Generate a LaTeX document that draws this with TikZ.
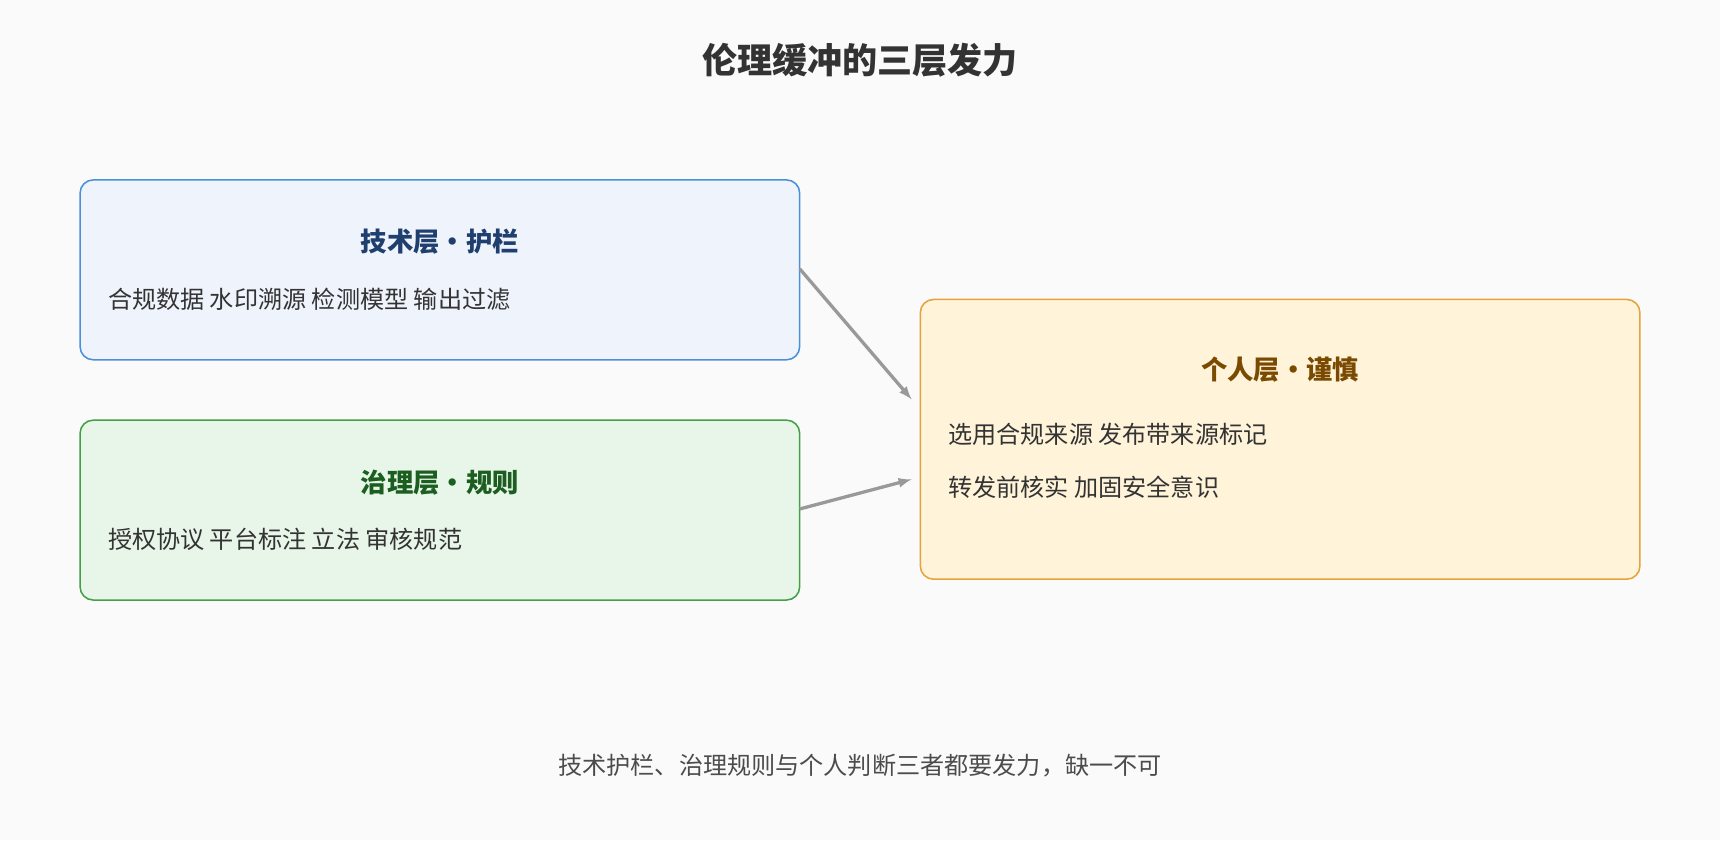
\documentclass[tikz,border=0pt]{standalone}
\usepackage{fontspec}
\setmainfont{Noto Sans CJK SC}
\newfontfamily\cjk{Noto Sans CJK SC}
\usetikzlibrary{backgrounds}
\definecolor{bgc}{HTML}{FAFAFA}
\definecolor{techfill}{HTML}{EEF3FC}
\definecolor{techline}{HTML}{4A90D9}
\definecolor{techtext}{HTML}{1F3F6E}
\definecolor{govfill}{HTML}{E8F5E9}
\definecolor{govline}{HTML}{43A047}
\definecolor{govtext}{HTML}{1B5E20}
\definecolor{perfill}{HTML}{FFF3D9}
\definecolor{perline}{HTML}{E6A23C}
\definecolor{pertext}{HTML}{7A4A00}
\definecolor{arrowc}{HTML}{999999}
\tikzset{
  layer/.style = {rounded corners=12pt, line width=1.4pt},
  head/.style = {font=\cjk\fontsize{24}{28}\selectfont\bfseries},
  item/.style = {anchor=west, text=black!80, font=\cjk\fontsize{22}{26}\selectfont},
  link/.style = {->, >=latex, arrowc, line width=3pt}
}

\begin{document}
\begin{tikzpicture}[x=1pt,y=-1pt]
  \useasboundingbox[fill=bgc] (0,0) rectangle (1568,766);
  % title
  \node[font=\cjk\fontsize{32}{36}\selectfont\bfseries, text=black!80] (title) at (784,55) {伦理缓冲的三层发力};
  % technology layer
  \draw[layer, fill=techfill, draw=techline] (73,164) rectangle (729,328);
  \node[head, text=techtext] (techhead) at (401,220) {技术层•护栏};
  \node[item] (techbody) at (95,273) {合规数据 水印溯源 检测模型 输出过滤};
  % governance layer
  \draw[layer, fill=govfill, draw=govline] (73,383) rectangle (729,547);
  \node[head, text=govtext] (govhead) at (401,440) {治理层•规则};
  \node[item] (govbody) at (95,492) {授权协议 平台标注 立法 审核规范};
  % personal layer
  \draw[layer, fill=perfill, draw=perline] (839,273) rectangle (1495,528);
  \node[head, text=pertext] (perhead) at (1167,337) {个人层•谨慎};
  \node[item] (perone) at (861,396) {选用合规来源 发布带来源标记};
  \node[item] (pertwo) at (861,444) {转发前核实 加固安全意识};
  % arrows
  \coordinate (techout) at (729,245);
  \coordinate (govout) at (729,464);
  \coordinate (perin1) at (831,364);
  \coordinate (perin2) at (831,437);
  \draw[link] (techout) -- (perin1);
  \draw[link] (govout) -- (perin2);
  % footer
  \node[font=\cjk\fontsize{22}{26}\selectfont, text=black!70] (note) at (784,698) {技术护栏、治理规则与个人判断三者都要发力，缺一不可};
\end{tikzpicture}
\end{document}
